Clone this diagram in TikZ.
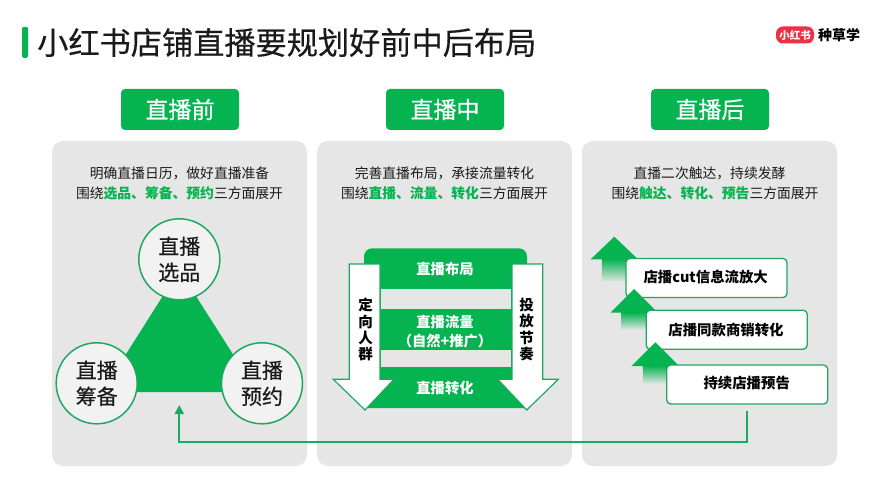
\documentclass[tikz,border=0pt]{standalone}
\usepackage{fontspec}
\setmainfont{Noto Sans CJK SC}
\newfontfamily\medcjk[FakeBold=0.35]{Noto Sans CJK SC}
\usetikzlibrary{arrows.meta,shadings}
\definecolor{xgreen}{HTML}{05B350}
\definecolor{xline}{HTML}{1FA860}
\definecolor{xpanel}{HTML}{E6E6E6}
\definecolor{xcircle}{HTML}{F2F2F2}
\definecolor{xred}{HTML}{EE2F45}
\definecolor{xink}{HTML}{1A1A1A}
\newcommand{\fs}[1]{\fontsize{#1}{#1}\selectfont}
\newcommand{\gb}[1]{\textcolor{xgreen}{\textbf{#1}}}
\tikzset{
  panelbox/.style={fill=xpanel,rounded corners=11,minimum width=255,minimum height=325,inner sep=0},
  headbox/.style={fill=xgreen,rounded corners=4,minimum width=118,minimum height=41,inner sep=0,text=white,font=\medcjk\fs{23}},
  desc/.style={text=xink,font=\fs{13.8},inner sep=0},
  bubble/.style={circle,draw=xline,line width=1.5,fill=xcircle,minimum size=81,inner sep=0,align=center,text=xink,font=\medcjk\fontsize{21}{26}\selectfont},
  blocktext/.style={text=white,font=\fs{14.3}\bfseries,inner sep=0,align=center},
  vtext/.style={text=black,font=\fontsize{14.5}{16.4}\selectfont\bfseries,inner sep=0,align=center},
  whitearrow/.style={fill=white,draw=xline,line width=1.2},
  stepbox/.style={fill=white,draw=xline,line width=1.3,rounded corners=4,minimum width=161,minimum height=39,inner sep=0},
  steptext/.style={text=black,font=\fs{14.4}\bfseries,inner sep=0},
  flow/.style={draw=xline,line width=2,-{Triangle[length=9,width=9]}},
}
\newcommand{\uparr}[4]{% tip x, tip y, head base y, fade end y
  \fill[xgreen] (#1,#2) -- (#1+23.7,#3) -- (#1-23.7,#3) -- cycle;
  \shade[top color=xgreen,bottom color=xpanel] (#1-12.5,#3-0.3) rectangle (#1+12.5,#4);
}
\begin{document}
\begin{tikzpicture}[x=1pt,y=-1pt]
\useasboundingbox (0,0) rectangle (889,500);
\fill[white] (0,0) rectangle (889,500);
% title
\fill[xgreen,rounded corners=1.5] (22,27) rectangle (28,58);
\node[anchor=west,inner sep=0,text=xink,font=\medcjk\fs{31.2}] (title) at (37,42.5) {小红书店铺直播要规划好前中后布局};
% logo
\node[fill=xred,rounded corners=7,minimum width=38,minimum height=17,inner sep=0,text=white,font=\fs{10.5}\bfseries] (logo) at (795,35) {小红书};
\node[anchor=west,inner sep=0,text=black,font=\fs{14}\bfseries] (logotext) at (818,35) {种草学};
% panels
\node[panelbox] (p1) at (179.5,303.5) {};
\node[panelbox] (p2) at (444.5,303.5) {};
\node[panelbox] (p3) at (709.5,303.5) {};
% heads
\node[headbox] (h1) at (180,109.5) {直播前};
\node[headbox] (h2) at (445,109.5) {直播中};
\node[headbox] (h3) at (710,109.5) {直播后};
% descriptions
\node[desc] (d1a) at (179.5,173) {明确直播日历，做好直播准备};
\node[desc] (d1b) at (179.5,193) {围绕\gb{选品、筹备、预约}三方面展开};
\node[desc] (d2a) at (444.5,173) {完善直播布局，承接流量转化};
\node[desc] (d2b) at (444.5,193) {围绕\gb{直播、流量、转化}三方面展开};
\node[desc] (d3a) at (709.5,173) {直播二次触达，持续发酵};
\node[desc] (d3b) at (715,193) {围绕\gb{触达、转化、预告}三方面展开};
% triangle
\fill[xgreen] (179.3,270) -- (257,392) -- (102,392) -- cycle;
\node[bubble] (c1) at (179.3,259.3) {直播\\选品};
\node[bubble] (c2) at (96.7,383.3) {直播\\筹备};
\node[bubble] (c3) at (262,383.3) {直播\\预约};
% middle block
\fill[xgreen] (364,408) {[rounded corners=8] -- (364,248.3) -- (527,248.3)} -- (527,408) -- cycle;
\fill[xpanel] (381,289.3) rectangle (511,308.7);
\fill[xpanel] (381,350) rectangle (511,367.3);
\draw[whitearrow] (349.3,264) -- (380,264) -- (380,379.3) -- (394,379.3) -- (365,410) -- (333.3,379.3) -- (349.3,379.3) -- cycle;
\draw[whitearrow] (512,264) -- (542.7,264) -- (542.7,379.3) -- (558.3,379.3) -- (526.7,410) -- (497.7,379.3) -- (512,379.3) -- cycle;
\node[blocktext] (b1) at (445,269) {直播布局};
\node[blocktext] (b2) at (445,321.7) {直播流量};
\node[blocktext] (b2b) at (445,341) {（自然+推广）};
\node[blocktext] (b3) at (445,387.7) {直播转化};
\node[vtext] (v1) at (365.7,329.6) {定\\向\\人\\群};
\node[vtext] (v2) at (526.7,329.6) {投\\放\\节\\奏};
% steps
\uparr{614.3}{236.7}{259.3}{282}
\node[stepbox] (s1) at (706.5,278) {};
\node[steptext] (s1t) at (705.7,276.7) {店播cut信息流放大};
\uparr{634}{289}{312.7}{330}
\node[stepbox] (s2) at (726.7,329.7) {};
\node[steptext] (s2t) at (726,330.3) {店播同款商销转化};
\uparr{655.3}{342.3}{366}{384}
\node[stepbox] (s3) at (747.2,384.5) {};
\node[steptext] (s3t) at (746.7,383.3) {持续店播预告};
% feedback connector
\coordinate (fbfrom) at (746.7,410.7);
\coordinate (fbto) at (179.3,405);
\draw[flow] (fbfrom) |- (179.3,441.7) -- (fbto);
\end{tikzpicture}
\end{document}
